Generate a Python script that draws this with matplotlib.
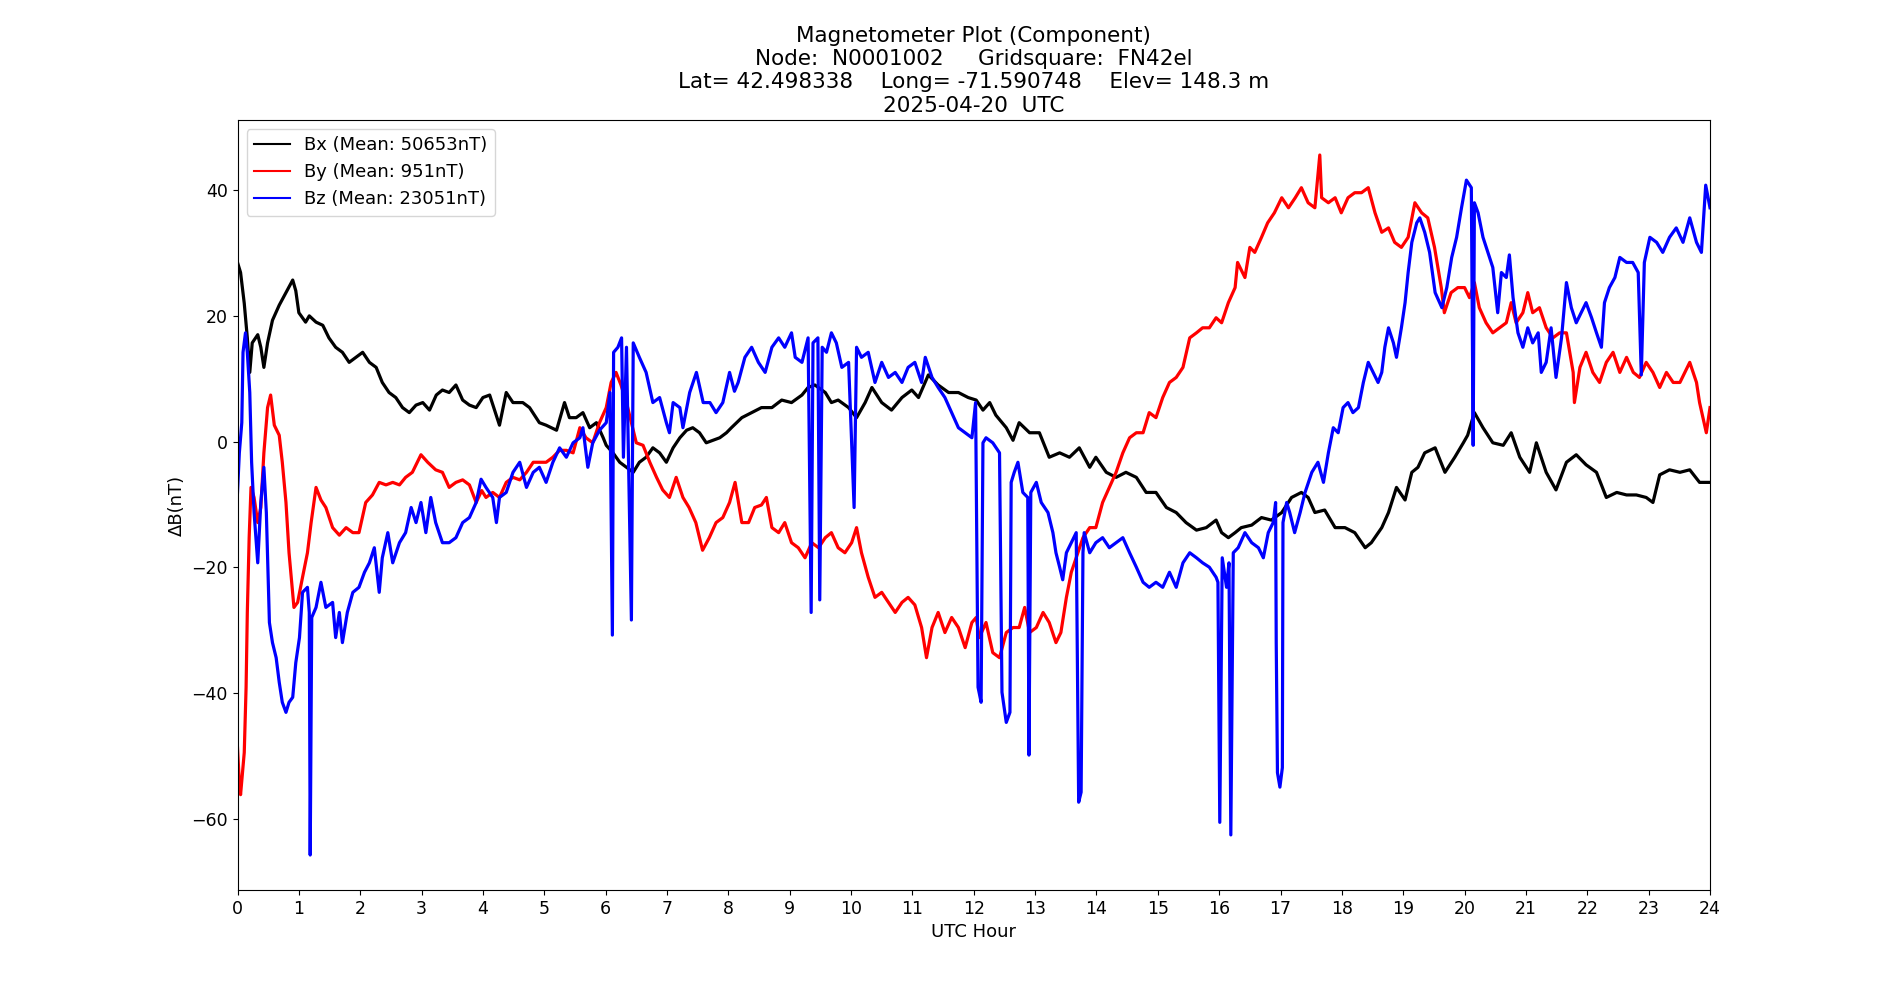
import matplotlib
matplotlib.use("Agg")
import matplotlib.pyplot as plt

# ---------------- data ----------------
bx_t = [0.00, 0.05, 0.11, 0.16, 0.20, 0.24, 0.33, 0.38, 0.43, 0.49, 0.57, 0.68, 0.79, 0.90, 0.95,
        1.00, 1.11, 1.17, 1.28, 1.39, 1.49, 1.60, 1.71, 1.82, 1.93, 2.04, 2.15, 2.26, 2.36, 2.47,
        2.58, 2.69, 2.80, 2.91, 3.02, 3.13, 3.24, 3.34, 3.45, 3.56, 3.67, 3.78, 3.89, 4.00, 4.11,
        4.27, 4.38, 4.49, 4.65, 4.76, 4.92, 5.03, 5.20, 5.33, 5.41, 5.52, 5.63, 5.74, 5.85, 5.96,
        6.01, 6.12, 6.23, 6.34, 6.45, 6.55, 6.66, 6.77, 6.88, 6.99, 7.10, 7.21, 7.32, 7.42, 7.53,
        7.64, 7.75, 7.86, 7.97, 8.05, 8.22, 8.38, 8.54, 8.71, 8.87, 9.03, 9.20, 9.30, 9.41, 9.58,
        9.68, 9.79, 9.96, 10.09, 10.23, 10.34, 10.50, 10.66, 10.83, 10.99, 11.10, 11.26, 11.42,
        11.59, 11.75, 11.91, 12.04, 12.15, 12.26, 12.36, 12.53, 12.64, 12.74, 12.91, 13.07, 13.23,
        13.40, 13.56, 13.72, 13.89, 13.99, 14.16, 14.32, 14.48, 14.65, 14.81, 14.97, 15.14, 15.30,
        15.46, 15.63, 15.79, 15.95, 16.04, 16.15, 16.26, 16.36, 16.53, 16.69, 16.85, 17.02, 17.18,
        17.34, 17.45, 17.56, 17.72, 17.89, 18.05, 18.21, 18.38, 18.48, 18.65, 18.76, 18.89, 19.03,
        19.14, 19.24, 19.35, 19.52, 19.68, 19.84, 19.98, 20.05, 20.16, 20.30, 20.46, 20.63, 20.76,
        20.90, 21.06, 21.17, 21.33, 21.49, 21.66, 21.82, 21.98, 22.15, 22.31, 22.48, 22.64, 22.80,
        22.96, 23.07, 23.18, 23.34, 23.51, 23.67, 23.83, 24.00]
bx = [28.5, 26.9, 22.0, 16.5, 11.0, 15.7, 17.0, 15.0, 11.8, 15.7, 19.3, 21.7, 23.7, 25.7, 24.0,
      20.5, 19.0, 20.0, 19.0, 18.5, 16.5, 15.0, 14.2, 12.6, 13.4, 14.2, 12.6, 11.8, 9.4, 7.8,
      7.0, 5.4, 4.6, 5.8, 6.2, 5.0, 7.4, 8.2, 7.8, 9.0, 6.6, 5.8, 5.4, 7.0, 7.4,
      2.6, 7.8, 6.2, 6.2, 5.4, 3.0, 2.6, 1.8, 6.2, 3.8, 3.8, 4.6, 2.2, 3.0, 0.6,
      -0.6, -1.8, -3.3, -4.1, -4.9, -3.3, -2.5, -1.0, -1.8, -3.3, -1.0, 0.6, 1.8, 2.2, 1.4,
      -0.2, 0.2, 0.6, 1.4, 2.2, 3.8, 4.6, 5.4, 5.4, 6.6, 6.2, 7.4, 8.6, 9.0, 7.8,
      6.2, 6.6, 5.4, 3.8, 6.2, 8.6, 6.2, 5.0, 7.0, 8.2, 7.0, 10.6, 9.0,
      7.8, 7.8, 7.0, 6.6, 5.0, 6.2, 4.2, 2.2, 0.2, 3.0, 1.4, 1.4, -2.5,
      -1.8, -2.5, -1.0, -4.1, -2.5, -4.9, -5.7, -4.9, -5.7, -8.1, -8.1, -10.5, -11.3,
      -12.9, -14.1, -13.7, -12.5, -14.5, -15.3, -14.5, -13.7, -13.3, -12.1, -12.5, -11.3, -8.9,
      -8.1, -8.9, -11.3, -10.9, -13.7, -13.7, -14.5, -16.9, -16.1, -13.7, -11.3, -7.3, -9.3,
      -4.9, -4.1, -1.8, -1.0, -4.9, -2.5, -0.2, 1.0, 4.6, 2.2, -0.2, -0.6, 1.4,
      -2.5, -4.9, -0.2, -4.9, -7.7, -3.3, -2.1, -3.7, -4.9, -8.9, -8.1, -8.5, -8.5,
      -8.9, -9.7, -5.3, -4.5, -4.9, -4.5, -6.5, -6.5]

by_t = [0.00, 0.03, 0.05, 0.11, 0.14, 0.16, 0.19, 0.22, 0.27, 0.33, 0.38, 0.43, 0.49, 0.54, 0.60,
        0.68, 0.73, 0.79, 0.84, 0.92, 0.98, 1.06, 1.14, 1.20, 1.28, 1.36, 1.44, 1.55, 1.66, 1.77,
        1.88, 1.98, 2.09, 2.20, 2.31, 2.42, 2.53, 2.64, 2.74, 2.85, 2.99, 3.10, 3.23, 3.34, 3.45,
        3.56, 3.67, 3.78, 3.89, 3.98, 4.05, 4.16, 4.27, 4.38, 4.49, 4.60, 4.71, 4.82, 4.92, 5.03,
        5.14, 5.25, 5.36, 5.47, 5.58, 5.68, 5.79, 5.90, 6.01, 6.09, 6.17, 6.25, 6.34, 6.42, 6.50,
        6.61, 6.72, 6.83, 6.93, 7.04, 7.15, 7.26, 7.36, 7.47, 7.58, 7.69, 7.80, 7.91, 8.02, 8.11,
        8.22, 8.33, 8.43, 8.54, 8.62, 8.71, 8.82, 8.92, 9.03, 9.14, 9.25, 9.36, 9.47, 9.58, 9.68,
        9.79, 9.90, 10.01, 10.09, 10.17, 10.28, 10.39, 10.50, 10.61, 10.72, 10.83, 10.93, 11.04,
        11.15, 11.23, 11.32, 11.42, 11.53, 11.64, 11.75, 11.86, 11.97, 12.04, 12.09, 12.20, 12.31,
        12.42, 12.53, 12.64, 12.74, 12.83, 12.91, 13.02, 13.13, 13.23, 13.34, 13.42, 13.51, 13.59,
        13.67, 13.78, 13.89, 13.99, 14.10, 14.21, 14.32, 14.43, 14.54, 14.65, 14.76, 14.86, 14.97,
        15.08, 15.19, 15.30, 15.41, 15.52, 15.63, 15.73, 15.84, 15.95, 16.04, 16.15, 16.26, 16.30,
        16.42, 16.50, 16.58, 16.69, 16.79, 16.90, 17.02, 17.13, 17.24, 17.34, 17.45, 17.56, 17.64,
        17.67, 17.78, 17.89, 17.99, 18.10, 18.21, 18.32, 18.43, 18.54, 18.65, 18.76, 18.86, 18.97,
        19.08, 19.19, 19.30, 19.40, 19.51, 19.62, 19.67, 19.78, 19.89, 20.00, 20.08, 20.16, 20.24,
        20.35, 20.46, 20.57, 20.68, 20.76, 20.84, 20.95, 21.03, 21.11, 21.22, 21.33, 21.44, 21.55,
        21.66, 21.77, 21.79, 21.88, 21.98, 22.09, 22.20, 22.31, 22.42, 22.53, 22.64, 22.75, 22.85,
        22.96, 23.07, 23.18, 23.29, 23.40, 23.51, 23.67, 23.78, 23.83, 23.94, 24.00]
by = [-48.7, -54.3, -56.2, -49.5, -39.1, -27.2, -15.3, -7.3, -8.9, -12.9, -10.5, -1.8, 5.4, 7.4, 2.6,
      1.0, -3.3, -9.7, -17.7, -26.4, -25.6, -21.6, -17.7, -12.9, -7.3, -9.3, -10.5, -13.7, -14.9, -13.7,
      -14.5, -14.5, -9.7, -8.5, -6.5, -6.9, -6.5, -6.9, -5.7, -4.9, -2.1, -3.3, -4.5, -4.9, -7.3,
      -6.5, -6.1, -6.9, -9.7, -7.8, -8.9, -8.1, -8.9, -6.5, -5.7, -6.1, -4.9, -3.3, -3.3, -3.3,
      -2.5, -1.4, -1.4, -1.8, 2.2, 0.6, -0.2, 3.0, 5.4, 9.4, 11.0, 9.0, 6.2, 3.0, -0.2,
      -0.6, -3.3, -5.7, -7.7, -8.9, -5.7, -8.9, -10.5, -12.9, -17.3, -15.3, -12.9, -12.1, -9.7, -6.5,
      -12.9, -12.9, -10.5, -10.1, -8.9, -13.7, -14.5, -12.9, -16.1, -16.9, -18.5, -16.1, -16.9, -15.3, -14.5,
      -16.9, -17.7, -16.1, -13.7, -17.7, -21.6, -24.8, -24.0, -25.6, -27.2, -25.6, -24.8, -26.0,
      -29.6, -34.4, -29.6, -27.2, -30.4, -28.0, -29.6, -32.8, -28.8, -28.0, -31.2, -28.8, -33.6,
      -34.4, -30.4, -29.6, -29.6, -26.4, -30.4, -29.6, -27.2, -28.8, -32.0, -30.4, -24.8, -20.8,
      -18.5, -15.3, -13.7, -13.7, -9.7, -7.3, -4.9, -1.8, 0.6, 1.4, 1.4, 4.6, 3.8,
      7.0, 9.4, 10.2, 11.8, 16.5, 17.3, 18.1, 18.1, 19.7, 18.9, 22.1, 24.5, 28.5,
      26.1, 30.9, 30.1, 32.5, 34.8, 36.4, 38.8, 37.2, 38.8, 40.4, 38.0, 37.2, 45.6,
      38.8, 38.0, 38.8, 36.4, 38.8, 39.6, 39.6, 40.4, 36.4, 33.3, 34.0, 31.7, 30.9,
      32.5, 38.0, 36.4, 35.6, 30.9, 24.5, 20.5, 23.7, 24.5, 24.5, 22.9, 25.3, 21.3,
      18.9, 17.3, 18.1, 18.9, 22.1, 18.9, 20.5, 23.7, 20.5, 21.3, 18.1, 16.5, 17.3,
      17.3, 11.0, 6.2, 11.8, 14.2, 11.0, 9.4, 12.6, 14.2, 11.0, 13.4, 11.0, 10.2,
      12.6, 11.0, 8.6, 11.0, 9.4, 9.4, 12.6, 9.4, 6.2, 1.4, 5.4]

bz_t = [0.00, 0.03, 0.07, 0.09, 0.13, 0.16, 0.20, 0.23, 0.27, 0.33, 0.38, 0.43, 0.47, 0.52, 0.57,
        0.63, 0.68, 0.73, 0.79, 0.84, 0.90, 0.95, 1.01, 1.06, 1.14, 1.17, 1.185, 1.21, 1.28, 1.36,
        1.44, 1.55, 1.60, 1.66, 1.71, 1.79, 1.88, 1.98, 2.07, 2.15, 2.23, 2.31, 2.36, 2.45, 2.53,
        2.64, 2.74, 2.83, 2.91, 2.99, 3.07, 3.15, 3.23, 3.34, 3.45, 3.56, 3.67, 3.78, 3.89, 3.97,
        4.05, 4.16, 4.22, 4.27, 4.38, 4.49, 4.60, 4.71, 4.82, 4.92, 5.03, 5.14, 5.25, 5.36, 5.47,
        5.58, 5.63, 5.71, 5.79, 5.90, 6.01, 6.07, 6.11, 6.13, 6.20, 6.26, 6.29, 6.34, 6.42, 6.45,
        6.55, 6.66, 6.77, 6.88, 6.99, 7.04, 7.10, 7.21, 7.26, 7.37, 7.48, 7.59, 7.70, 7.80, 7.91,
        8.02, 8.10, 8.16, 8.27, 8.38, 8.49, 8.60, 8.71, 8.82, 8.92, 9.03, 9.09, 9.20, 9.30, 9.35,
        9.38, 9.46, 9.49, 9.53, 9.60, 9.68, 9.76, 9.85, 9.96, 10.05, 10.09, 10.17, 10.28, 10.39,
        10.50, 10.61, 10.72, 10.83, 10.93, 11.04, 11.15, 11.21, 11.32, 11.42, 11.53, 11.64, 11.75,
        11.86, 11.97, 12.03, 12.07, 12.12, 12.15, 12.20, 12.31, 12.42, 12.46, 12.53, 12.59, 12.61,
        12.66, 12.72, 12.80, 12.88, 12.90, 12.93, 13.02, 13.10, 13.21, 13.29, 13.34, 13.40, 13.45,
        13.51, 13.59, 13.67, 13.71, 13.75, 13.78, 13.80, 13.89, 13.99, 14.10, 14.21, 14.32, 14.43,
        14.54, 14.65, 14.76, 14.86, 14.97, 15.08, 15.19, 15.30, 15.41, 15.52, 15.63, 15.73, 15.84,
        15.95, 15.98, 16.01, 16.05, 16.12, 16.16, 16.19, 16.23, 16.31, 16.42, 16.53, 16.64, 16.72,
        16.80, 16.88, 16.92, 16.93, 16.95, 16.99, 17.03, 17.04, 17.10, 17.15, 17.23, 17.32, 17.40,
        17.51, 17.61, 17.70, 17.78, 17.86, 17.94, 18.02, 18.10, 18.18, 18.27, 18.35, 18.43, 18.51,
        18.59, 18.65, 18.70, 18.76, 18.84, 18.89, 18.97, 19.03, 19.08, 19.14, 19.22, 19.27, 19.35,
        19.43, 19.52, 19.63, 19.71, 19.79, 19.87, 19.95, 20.03, 20.11, 20.14, 20.16, 20.22, 20.30,
        20.38, 20.46, 20.54, 20.60, 20.68, 20.73, 20.79, 20.87, 20.95, 21.03, 21.11, 21.20, 21.25,
        21.33, 21.41, 21.49, 21.58, 21.66, 21.74, 21.82, 21.90, 21.98, 22.07, 22.15, 22.23, 22.28,
        22.36, 22.45, 22.53, 22.64, 22.74, 22.83, 22.88, 22.93, 23.02, 23.13, 23.23, 23.34, 23.45,
        23.56, 23.67, 23.78, 23.86, 23.93, 24.00]
bz = [-8.1, -1.8, 3.0, 14.2, 17.3, 14.2, 7.8, -3.3, -11.3, -19.3, -9.7, -4.1, -11.3, -28.8, -32.0,
      -34.4, -38.3, -41.5, -43.1, -41.5, -40.7, -35.2, -31.2, -24.0, -23.2, -27.2, -65.8, -28.0, -26.4, -22.4,
      -26.4, -25.6, -31.2, -27.2, -32.0, -27.2, -24.0, -23.2, -20.8, -19.3, -16.9, -24.0, -18.5, -14.5, -19.3,
      -16.1, -14.5, -10.5, -12.9, -9.7, -14.5, -8.9, -12.9, -16.1, -16.1, -15.3, -12.9, -12.1, -9.7, -6.0,
      -7.3, -8.9, -12.9, -8.9, -8.1, -4.9, -3.3, -7.3, -4.9, -4.1, -6.5, -3.3, -1.0, -2.5, -0.2,
      0.6, 2.2, -4.1, -0.2, 1.8, 3.0, 7.8, -30.8, 14.2, 15.0, 16.5, -2.5, 15.0, -28.4, 15.7,
      13.4, 11.0, 6.2, 7.0, 3.0, 1.4, 6.2, 5.4, 2.2, 7.8, 11.0, 6.2, 6.2, 4.6, 6.2,
      11.0, 8.0, 9.4, 13.4, 15.0, 12.6, 11.0, 15.0, 16.5, 15.0, 17.3, 13.4, 12.6, 16.5, -27.2,
      15.7, 16.5, -25.2, 15.0, 14.2, 17.3, 15.7, 11.8, 12.6, -10.5, 15.0, 13.4, 14.2, 9.4,
      12.6, 10.2, 11.0, 9.4, 11.8, 12.6, 9.4, 13.4, 10.2, 8.6, 7.0, 4.6, 2.2,
      1.4, 0.6, 6.2, -39.1, -41.5, -0.2, 0.6, -0.2, -1.8, -39.9, -44.7, -43.1, -6.5,
      -4.9, -3.3, -8.1, -8.9, -49.9, -8.1, -6.5, -9.7, -11.3, -14.5, -17.7, -20.0, -22.0,
      -17.7, -16.1, -14.5, -57.4, -55.8, -17.7, -14.5, -17.7, -16.1, -15.3, -16.9, -16.1, -15.3,
      -17.7, -20.0, -22.4, -23.2, -22.4, -23.2, -20.8, -23.2, -19.3, -17.7, -18.5, -19.3, -20.0,
      -21.6, -22.4, -60.6, -18.5, -23.2, -19.3, -62.6, -17.7, -16.9, -14.5, -16.1, -16.9, -18.5,
      -14.5, -12.9, -9.7, -32.0, -52.7, -55.0, -51.9, -12.9, -9.7, -11.3, -14.5, -11.3, -8.1,
      -4.9, -3.3, -6.5, -1.8, 2.2, 1.4, 5.4, 6.2, 4.6, 5.4, 9.4, 12.6, 11.0,
      9.4, 11.0, 15.0, 18.1, 15.7, 13.4, 18.1, 22.1, 26.9, 31.7, 34.8, 35.6, 33.3,
      30.1, 23.7, 21.3, 24.5, 29.3, 32.5, 37.2, 41.6, 40.4, -0.6, 38.0, 36.4, 32.5,
      30.1, 27.7, 20.5, 26.9, 26.1, 29.7, 22.9, 17.3, 15.0, 18.1, 15.7, 17.3, 11.0,
      12.6, 18.1, 10.2, 16.5, 25.3, 21.3, 18.9, 20.5, 22.1, 19.7, 17.3, 15.0, 22.1,
      24.5, 26.1, 29.3, 28.5, 28.5, 26.9, 10.6, 28.5, 32.5, 31.7, 30.1, 32.5, 34.0,
      31.7, 35.6, 31.7, 30.1, 40.8, 37.2]

x_ticks = list(range(0, 25))
labels = ["Bx (Mean: 50653nT)", "By (Mean: 951nT)", "Bz (Mean: 23051nT)"]
colors = ["black", "red", "blue"]
title = ("Magnetometer Plot (Component)\n"
         "Node:  N0001002     Gridsquare:  FN42el\n"
         "Lat= 42.498338    Long= -71.590748    Elev= 148.3 m\n"
         "2025-04-20  UTC")

# ---------------- plot ----------------
fig, ax = plt.subplots(figsize=(19, 10), dpi=100)
fig.subplots_adjust(left=0.125, right=0.9, bottom=0.11, top=0.88)
for t, v, lab, c in zip([bx_t, by_t, bz_t], [bx, by, bz], labels, colors):
    ax.plot(t, v, color=c, linewidth=2.3, label=lab)

ax.set_xlim(0, 24)
ax.set_xticks(x_ticks)
ax.tick_params(labelsize=12.5)
ax.set_xlabel("UTC Hour", fontsize=13)
ax.set_ylabel("ΔB(nT)", fontsize=13)
ax.set_title(title, fontsize=15.5)
leg = ax.legend(loc="upper left", fontsize=13)
for h in leg.get_lines():
    h.set_linewidth(1.5)

fig.savefig("out.png", dpi=100)
